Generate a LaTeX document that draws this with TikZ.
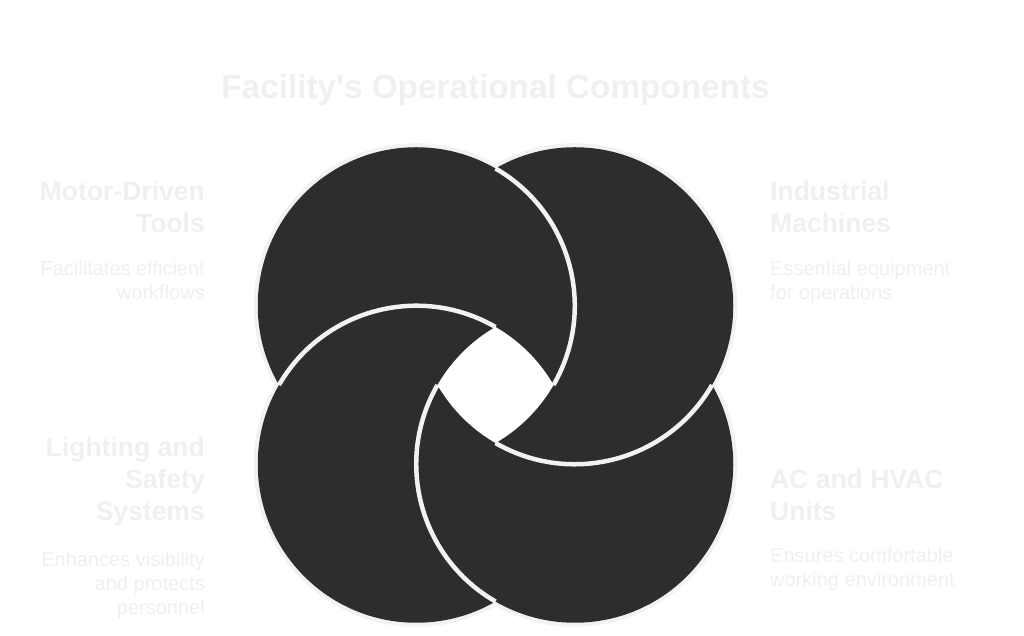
\documentclass[tikz,border=0pt]{standalone}
\usepackage{fontspec}
\setmainfont{Liberation Sans}[Ligatures=TeXOff]
\definecolor{dark}{HTML}{2D2D2D}
\definecolor{edge}{HTML}{F2F2F2}
\definecolor{txt}{HTML}{F0F0F0}
\tikzset{
  ringfill/.style={fill=dark},
  ringedge/.style={draw=edge, line width=4.5pt},
  ttl/.style={text=txt, font=\fontsize{33.3}{40}\selectfont\bfseries, inner sep=0pt},
  hd/.style={text=txt, font=\fontsize{26.5}{32}\selectfont\bfseries, inner sep=0pt},
  ds/.style={text=txt, font=\fontsize{20}{24}\selectfont, inner sep=0pt}
}
\begin{document}
\begin{tikzpicture}[x=1pt,y=1pt]
\useasboundingbox (0,0) rectangle (1024,636);
\fill[white] (0,0) rectangle (1024,636);
\def\R{158.5}
\coordinate (A) at (416.25,330.25);
\coordinate (B) at (574.75,330.25);
\coordinate (C) at (416.25,171.75);
\coordinate (D) at (574.75,171.75);
% outer outline
\foreach \c in {A,B,C,D} \draw[edge, line width=8pt] (\c) circle[radius=\R];
\foreach \c in {A,B,C,D} \fill[ringfill] (\c) circle[radius=\R];
% interlocking edges
\draw[ringedge] ([shift={(60:\R)}]A) arc[start angle=60, end angle=-30, radius=\R];
\draw[ringedge] ([shift={(150:\R)}]C) arc[start angle=150, end angle=60, radius=\R];
\draw[ringedge] ([shift={(150:\R)}]D) arc[start angle=150, end angle=240, radius=\R];
\draw[ringedge] ([shift={(240:\R)}]B) arc[start angle=240, end angle=330, radius=\R];
% central hole
\begin{scope}
\clip (A) circle[radius=\R];
\clip (B) circle[radius=\R];
\clip (C) circle[radius=\R];
\fill[white] (D) circle[radius=\R];
\end{scope}
% texts
\node[ttl, anchor=base] (title) at (495.5,537.5) {Facility's Operational Components};
\node[hd, anchor=north east, align=right] (h1) at (205,454.5) {Motor-Driven\\Tools};
\node[ds, anchor=north east, align=right] (d1) at (205,375) {Facilitates efficient\\workflows};
\node[hd, anchor=north west, align=left] (h2) at (770,454.5) {Industrial\\Machines};
\node[ds, anchor=north west, align=left] (d2) at (770,375) {Essential equipment\\for operations};
\node[hd, anchor=north east, align=right] (h3) at (205,198.5) {Lighting and\\Safety\\Systems};
\node[ds, anchor=north east, align=right] (d3) at (205,84) {Enhances visibility\\and protects\\personnel};
\node[hd, anchor=north west, align=left] (h4) at (770,166.5) {AC and HVAC\\Units};
\node[ds, anchor=north west, align=left] (d4) at (770,88) {Ensures comfortable\\working environment};
\end{tikzpicture}
\end{document}
